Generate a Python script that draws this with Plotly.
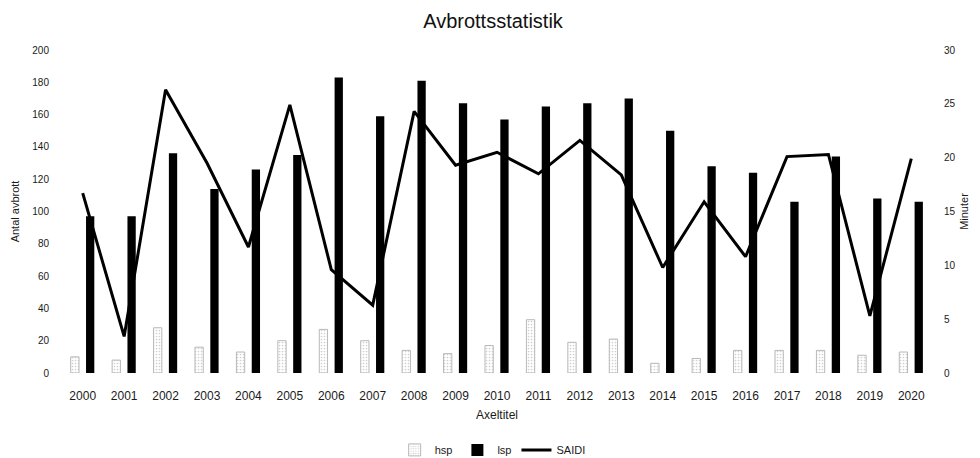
import plotly.graph_objects as go

years = list(range(2000, 2021))
hsp = [10, 8, 28, 16, 13, 20, 27, 20, 14, 12, 17, 33, 19, 21, 6, 9, 14, 14, 14, 11, 13]
lsp = [97, 97, 136, 114, 126, 135, 183, 159, 181, 167, 157, 165, 167, 170, 150, 128, 124, 106, 134, 108, 106]
saidi = [16.7, 3.4, 26.3, 19.5, 11.7, 24.9, 9.6, 6.3, 24.3, 19.3, 20.5, 18.5, 21.6, 18.4, 9.8, 15.9, 10.8, 20.1, 20.3, 5.3, 19.9]

FONT = "Liberation Sans"
CLEAR = "rgba(0,0,0,0)"

fig = go.Figure()
fig.add_trace(go.Bar(
    x=years, y=hsp, name="hsp", width=0.2, offset=-0.29,
    marker=dict(color="white", line=dict(color="#b8b8b8", width=1),
                pattern=dict(shape=".", fgcolor="#a0a0a0", size=3, solidity=0.25)),
))
fig.add_trace(go.Bar(
    x=years, y=lsp, name="lsp", width=0.2, offset=0.08,
    marker=dict(color="black", line=dict(width=0)),
))
fig.add_trace(go.Scatter(
    x=years, y=saidi, name="SAIDI", yaxis="y2", mode="lines",
    line=dict(color="black", width=3),
))

fig.update_layout(
    width=972, height=450,
    margin=dict(l=54, r=48, t=42, b=85, autoexpand=False),
    paper_bgcolor="white", plot_bgcolor="white",
    font=dict(family=FONT, size=10, color="#1a1a1a"),
    title=dict(text="Avbrottsstatistik", x=0.499, xanchor="center", y=0.972, yanchor="middle",
               font=dict(size=20, color="#111", family=FONT)),
    barmode="overlay",
    showlegend=True,
    legend=dict(orientation="h", x=0.495, xanchor="center", y=0.018, yanchor="middle",
                yref="container", font=dict(size=11), traceorder="normal"),
    xaxis=dict(range=[1999.5, 2020.5], tickmode="array", tickvals=years,
               ticktext=[str(y) for y in years], showgrid=False, zeroline=False,
               showline=False, ticks="outside", ticklen=12, tickcolor=CLEAR,
               tickfont=dict(size=12), automargin=False,
               title=dict(text="Axeltitel", font=dict(size=12), standoff=8)),
    yaxis=dict(range=[0, 200], dtick=20, showgrid=False, zeroline=False,
               showline=False, ticks="outside", ticklen=10, tickcolor=CLEAR,
               tickfont=dict(size=10), automargin=False,
               title=dict(text="Antal avbrott", font=dict(size=11), standoff=10)),
    yaxis2=dict(range=[0, 30], dtick=5, overlaying="y", side="right",
                showgrid=False, zeroline=False, showline=False,
                ticks="outside", ticklen=9, tickcolor=CLEAR,
                tickfont=dict(size=10), automargin=False,
                title=dict(text="Minuter", font=dict(size=11), standoff=5)),
)

fig.write_html("out.html")
